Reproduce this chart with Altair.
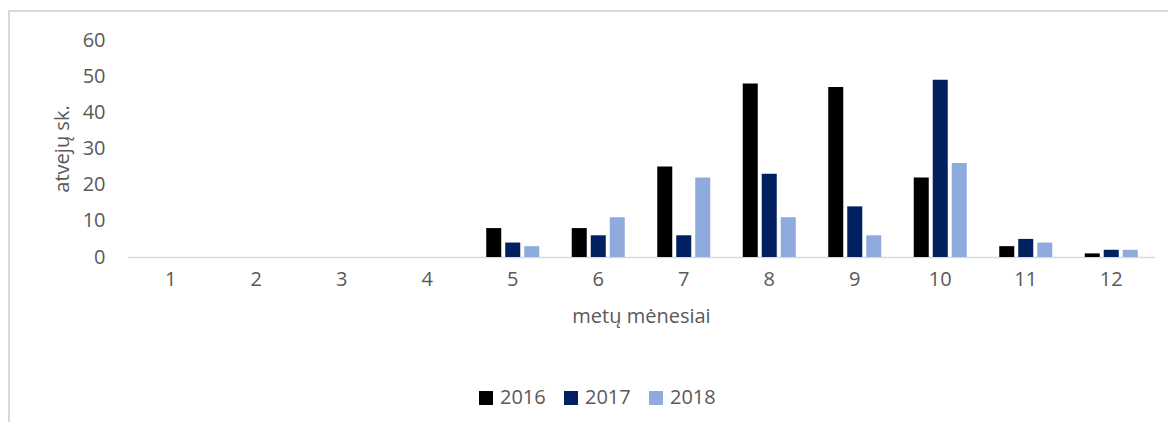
import altair as alt
import pandas as pd

months = list(range(1, 13))
years = ["2016", "2017", "2018"]
v2016 = [0, 0, 0, 0, 8, 8, 25, 48, 47, 22, 3, 1]
v2017 = [0, 0, 0, 0, 4, 6, 6, 23, 14, 49, 5, 2]
v2018 = [0, 0, 0, 0, 3, 11, 22, 11, 6, 26, 4, 2]
y_ticks = [0, 10, 20, 30, 40, 50, 60]
colors = ["#000000", "#002060", "#8FAADC"]

rows = []
for yr, vals in zip(years, [v2016, v2017, v2018]):
    for m, v in zip(months, vals):
        rows.append({"month": m, "year": yr, "value": v})
df = pd.DataFrame(rows)

FONT = "Open Sans"
GRAY = "#595959"
LINE = "#D9D9D9"

bars = alt.Chart(df).mark_bar().encode(
    x=alt.X(
        "month:O",
        scale=alt.Scale(paddingInner=0.38, paddingOuter=0.19),
        axis=alt.Axis(
            title="metų mėnesiai",
            labelAngle=0,
            domainColor=LINE,
            domainWidth=1.5,
            ticks=False,
            labelFont=FONT,
            labelFontSize=20,
            labelColor=GRAY,
            labelPadding=12,
            titleFont=FONT,
            titleFontSize=20,
            titleFontWeight="normal",
            titleColor=GRAY,
            titlePadding=17,
        ),
    ),
    xOffset=alt.XOffset("year:N", scale=alt.Scale(paddingInner=0.21)),
    y=alt.Y(
        "value:Q",
        scale=alt.Scale(domain=[0, 60]),
        axis=alt.Axis(
            title="atvejų sk.",
            values=y_ticks,
            domain=False,
            ticks=False,
            grid=False,
            labelFont=FONT,
            labelFontSize=20,
            labelColor=GRAY,
            labelPadding=23,
            titleFont=FONT,
            titleFontSize=20,
            titleFontWeight="normal",
            titleColor=GRAY,
            titlePadding=10,
        ),
    ),
    color=alt.Color(
        "year:N",
        scale=alt.Scale(domain=years, range=colors),
        legend=alt.Legend(
            title=None,
            orient="none",
            legendX=348,
            legendY=348,
            direction="horizontal",
            symbolType="square",
            symbolSize=196,
            symbolStrokeWidth=0,
            labelFont=FONT,
            labelFontSize=20,
            labelColor=GRAY,
            labelOffset=4,
            columnPadding=15,
            padding=0,
        ),
    ),
)

frame = pd.DataFrame({"k": [0]})
left_border = alt.Chart(frame).mark_rule(color=LINE, strokeWidth=2).encode(
    x=alt.value(-119), y=alt.value(-29), y2=alt.value(400)
)
top_border = alt.Chart(frame).mark_rule(color=LINE, strokeWidth=2).encode(
    x=alt.value(-120), x2=alt.value(1100), y=alt.value(-29)
)

chart = alt.layer(left_border, top_border, bars).properties(
    width=1026,
    height=217,
    padding={"left": 120, "top": 32, "right": 14, "bottom": 165},
    autosize=alt.AutoSizeParams(type="none"),
).configure_view(stroke=None)

chart.save("out.html", embed_options={"renderer": "svg", "actions": False})
